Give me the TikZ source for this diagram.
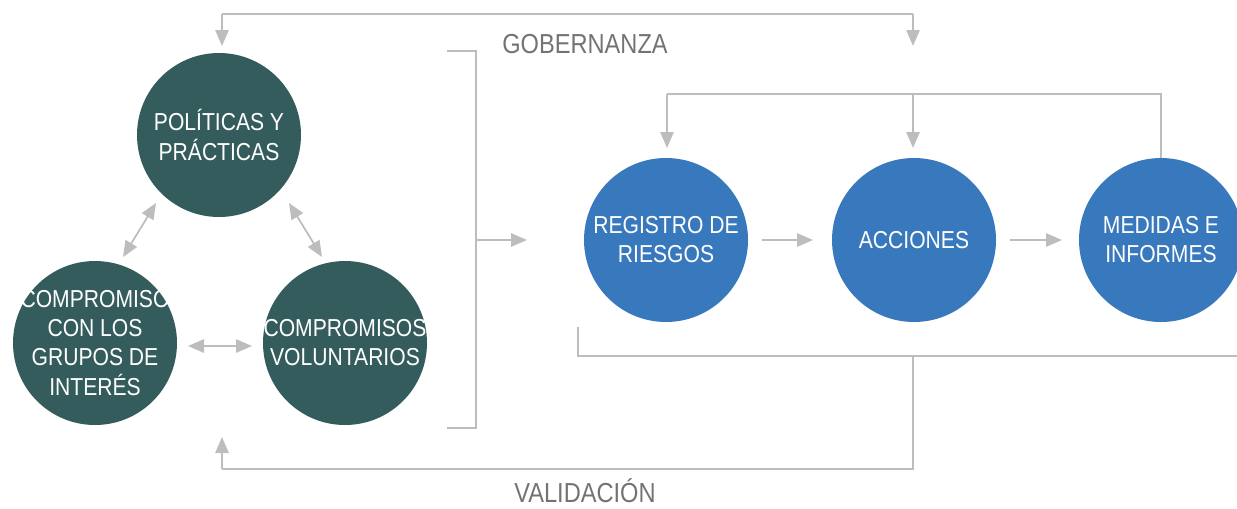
\documentclass[tikz,border=0pt]{standalone}
\usepackage{fontspec}
\setmainfont[FakeStretch=0.86]{Liberation Sans}
\usetikzlibrary{arrows.meta}
\definecolor{teal}{HTML}{355C5C}
\definecolor{blu}{HTML}{3878BD}
\definecolor{ln}{HTML}{BDBDBD}
\definecolor{lbl}{HTML}{737373}
\begin{document}
\begin{tikzpicture}[x=0.75pt,y=-0.75pt,
  circ/.style={circle,inner sep=-40pt,minimum size=123pt,text=white,align=center,font=\fontsize{18.4}{21.8}\selectfont},
  tcirc/.style={circ,fill=teal},
  bcirc/.style={circ,fill=blu},
  conn/.style={draw=ln,line width=1.3pt},
  arr/.style={conn,-{Triangle[length=12pt,width=10pt]}},
  darr/.style={conn,{Triangle[length=12pt,width=10pt]}-{Triangle[length=12pt,width=10pt]}},
  lab/.style={text=lbl,inner sep=0pt,font=\fontsize{20.6}{23}\selectfont}]
\useasboundingbox (0,0) rectangle (1237,508);
\begin{scope}
\clip (0,0) rectangle (1237,508);
\node[tcirc] (pol) at (219,135) {POLÍTICAS Y\\PRÁCTICAS};
\node[tcirc] (com) at (95,343) {COMPROMISO\\CON LOS\\GRUPOS DE\\INTERÉS};
\node[tcirc] (vol) at (345,343) {COMPROMISOS\\VOLUNTARIOS};
\node[bcirc] (reg) at (666,240) {REGISTRO DE\\RIESGOS};
\node[bcirc] (acc) at (914,240) {ACCIONES};
\node[bcirc] (med) at (1161,240) {MEDIDAS E\\INFORMES};
\end{scope}
\node[lab] (gob) at (585,44) {GOBERNANZA};
\node[lab] (val) at (585,491) {VALIDACIÓN};
% triangle arrows
\coordinate (a1) at (156,203); \coordinate (a2) at (123,257);
\coordinate (b1) at (289,203); \coordinate (b2) at (322,257);
\coordinate (c1) at (188,346); \coordinate (c2) at (252,346);
\draw[darr] (a1) -- (a2);
\draw[darr] (b1) -- (b2);
\draw[darr] (c1) -- (c2);
% top governance line
\coordinate (g1) at (222,46); \coordinate (g2) at (913,46);
\draw[arr] (222,14) -- (g1);
\draw[conn] (222,14) -- (913,14);
\draw[arr] (913,14) -- (g2);
% bracket
\coordinate (br) at (476,240); \coordinate (brt) at (527,240);
\draw[conn] (447,51) -- (476,51) -- (476,428) -- (447,428);
\draw[arr] (br) -- (brt);
% inner loop
\coordinate (i1) at (667,148); \coordinate (i2) at (913,148);
\draw[conn] (med.north) -- (1161,94) -- (667,94);
\draw[arr] (667,94) -- (i1);
\draw[arr] (913,94) -- (i2);
% arrows between blue circles
\draw[arr] (762,240) -- (813,240);
\draw[arr] (1010,240) -- (1062,240);
% bottom validation line
\coordinate (v1) at (222,437);
\draw[conn] (578,327) -- (578,356) -- (1237,356);
\draw[conn] (913,356) -- (913,469) -- (222,469);
\draw[arr] (222,469) -- (v1);
\end{tikzpicture}
\end{document}
